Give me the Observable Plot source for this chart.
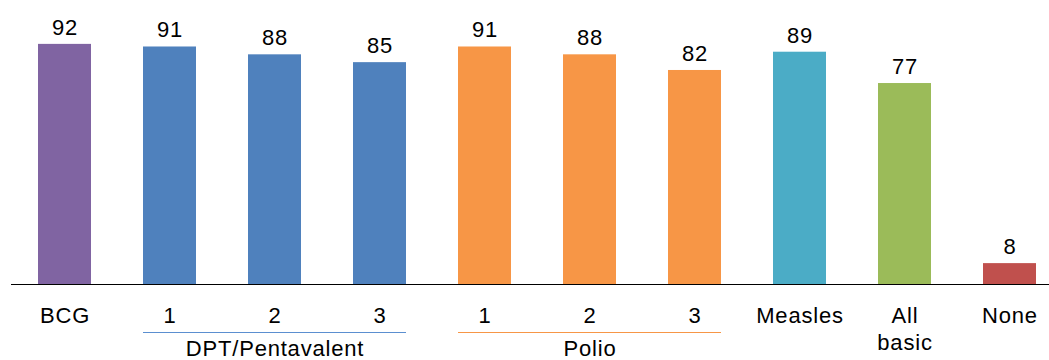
<!DOCTYPE html>
<html>
<head>
<meta charset="utf-8">
<script src="https://cdn.jsdelivr.net/npm/d3@7"></script>
<script src="https://cdn.jsdelivr.net/npm/@observablehq/plot@0.6"></script>
<style>
  html, body { margin: 0; padding: 0; background: #fff; }
  #chart { width: 1049px; height: 360px; overflow: hidden; }
</style>
</head>
<body>
<div id="chart"></div>
<script>
// ---- data ----
const categories = ["BCG", "DPT 1", "DPT 2", "DPT 3", "Polio 1", "Polio 2", "Polio 3", "Measles", "All basic", "None"];
const tickLabels = ["BCG", "1", "2", "3", "1", "2", "3", "Measles", "All\nbasic", "None"];
const values = [92, 91, 88, 85, 91, 88, 82, 89, 77, 8];
const barColors = ["#8064A2", "#4F81BD", "#4F81BD", "#4F81BD", "#F79646", "#F79646", "#F79646", "#4BACC6", "#9BBB59", "#C0504D"];

const groupNames = ["DPT/Pentavalent", "Polio"];
const groupFirst = ["DPT 1", "Polio 1"];
const groupMid = ["DPT 2", "Polio 2"];
const groupLast = ["DPT 3", "Polio 3"];
const groupColors = ["#5B8FD0", "#F79646"];

const data = categories.map((c, i) => ({cat: c, value: values[i], color: barColors[i], label: tickLabels[i]}));
const groups = groupNames.map((g, i) => ({name: g, first: groupFirst[i], mid: groupMid[i], last: groupLast[i], color: groupColors[i]}));

const FONT = "'Liberation Sans', Arial, sans-serif";
const FS = 22;

// custom mark: bracket lines under the grouped categories
function groupRules(...args) {
  const s = args.find(a => a && typeof a.x === "function" && typeof a.y === "function");
  const x = s.x, y = s.y;
  const bw = typeof x.bandwidth === "function" ? x.bandwidth() : x.bandwidth;
  const g = d3.create("svg:g");
  groups.forEach(gr => {
    const yy = Math.round(y(0)) + 48.5;
    g.append("line")
      .attr("x1", x(gr.first)).attr("x2", x(gr.last) + bw)
      .attr("y1", yy).attr("y2", yy)
      .attr("stroke", gr.color).attr("stroke-width", 1);
  });
  return g.node();
}

const plot = Plot.plot({
  width: 1049,
  height: 360,
  marginTop: 23,
  marginBottom: 76,
  marginLeft: 11,
  marginRight: 0,
  style: {fontFamily: FONT, fontSize: FS + "px", letterSpacing: "0.8px", background: "#fff", color: "#000"},
  x: {domain: categories, range: [10.9, 1062.6], paddingInner: 0.496, paddingOuter: 0.248, axis: null},
  y: {domain: [0, 100], axis: null},
  color: {type: "identity"},
  marks: [
    Plot.barY(data, {x: "cat", y: "value", fill: "color"}),
    Plot.ruleY([0], {stroke: "#000", strokeWidth: 1}),
    Plot.text(data, {x: "cat", y: "value", text: d => String(d.value), dy: -9.5, lineAnchor: "bottom", fill: "#000", fontSize: FS}),
    Plot.text(data, {x: "cat", y: () => 0, text: "label", lineAnchor: "top", lineHeight: 1.23, dy: 18.8, fill: "#000", fontSize: FS}),
    groupRules,
    Plot.text(groups, {x: "mid", y: () => 0, text: "name", lineAnchor: "bottom", dy: 71.5, fill: "#000", fontSize: FS})
  ]
});
document.getElementById("chart").appendChild(plot);
</script>
</body>
</html>
